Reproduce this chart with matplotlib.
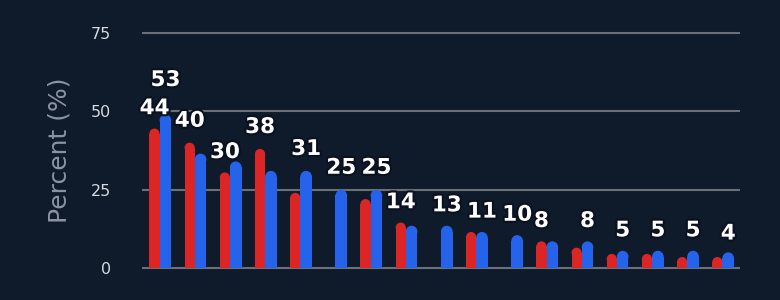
import matplotlib
matplotlib.use("Agg")
import matplotlib.pyplot as plt
import matplotlib.patheffects as pe
from matplotlib.patches import Ellipse
import numpy as np

# Data
red_vals = [44.5, 40, 30.5, 38, 24, 0, 22, 14.5, 0, 11.5, 0, 8.5, 6.5, 4.5, 4.5, 3.5, 3.5]
blue_vals = [49, 36.5, 34, 31, 31, 25, 25, 13.5, 13.5, 11.5, 10.5, 8.5, 8.5, 5.5, 5.5, 5.5, 5]
red_labels = [44, 40, 30, 38, None, None, None, 14, None, None, None, 8, None, None, None, None, None]
blue_labels = [53, None, None, None, 31, 25, 25, None, 13, 11, 10, None, 8, 5, 5, 5, 4]
y_ticks = [0, 25, 50, 75]

# Style
BG = "#0f1a2b"
RED = "#dc2626"
BLUE = "#2563eb"
GRID = "#6b6f78"

# layout: 0 -> 268 px, 75 -> 33 px from top
px_per_unit = 235 / 75
y_lo, y_hi = -0.6, 75.6
ax_bottom = 268 + (0 - y_lo) * px_per_unit
ax_height = (y_hi - y_lo) * px_per_unit

fig = plt.figure(figsize=(7.8, 3.0), dpi=100, facecolor=BG)
ax = fig.add_axes([142 / 780, (300 - ax_bottom) / 300, 598 / 780, ax_height / 300])
ax.set_facecolor(BG)

n = len(red_vals)
x = np.arange(n)
ax.set_xlim(-0.5, n - 0.5)
ax.set_ylim(y_lo, y_hi)

# pixel ratio so the rounded tops look circular
ratio = (598 / n) / px_per_unit

def rounded_bar(xc, h, w, color):
    if h <= 0:
        return
    ry = w / 2 * ratio
    ax.bar(xc, max(h - ry, 0), width=w, color=color, zorder=3, linewidth=0)
    ax.add_patch(Ellipse((xc, h - ry), w, 2 * ry, color=color, zorder=3, linewidth=0))

w_red, w_blue = 0.29, 0.33
for i in range(n):
    rounded_bar(x[i] - w_red / 2, red_vals[i], w_red, RED)
    rounded_bar(x[i] + w_blue / 2, blue_vals[i], w_blue, BLUE)

stroke = [pe.withStroke(linewidth=3, foreground="#0a1120")]
for i in range(n):
    if red_labels[i] is not None:
        ax.text(x[i] - w_red / 2, red_labels[i] + 7, str(red_labels[i]), ha="center", va="center",
                color="white", fontsize=15.5, fontweight="bold", path_effects=stroke, zorder=5)
    if blue_labels[i] is not None:
        ax.text(x[i] + w_blue / 2, blue_labels[i] + 7, str(blue_labels[i]), ha="center", va="center",
                color="white", fontsize=15.5, fontweight="bold", path_effects=stroke, zorder=5)

ax.set_yticks(y_ticks)
ax.set_xticks([])
ax.grid(axis="y", color=GRID, linewidth=1.5, zorder=0)
ax.tick_params(axis="y", length=0, pad=22, colors="#d5d9e0", labelsize=11.5)
for s in ax.spines.values():
    s.set_visible(False)
ax.set_ylabel("Percent (%)", color="#8b93a1", fontsize=18, labelpad=14)

fig.savefig("out.png", dpi=100, facecolor=BG)
